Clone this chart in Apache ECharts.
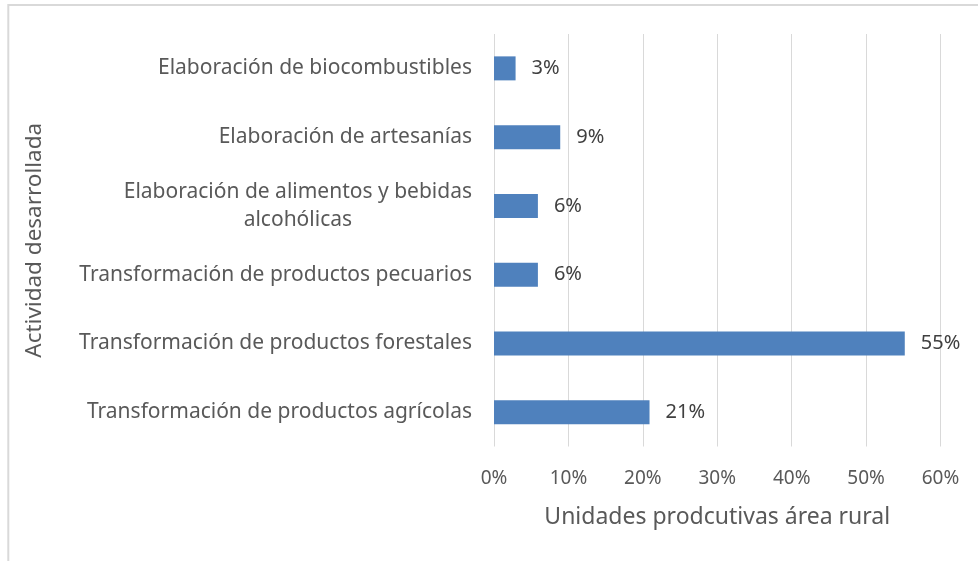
<!DOCTYPE html>
<html>
<head>
<meta charset="utf-8">
<script src="https://cdn.jsdelivr.net/npm/echarts@6/dist/echarts.min.js"></script>
<style>
  html, body { margin: 0; padding: 0; background: #fff; }
  #chart { width: 978px; height: 561px; }
</style>
</head>
<body>
<div id="chart"></div>
<script>
// categories bottom -> top (category axis starts at the bottom)
const categories = [
    'Transformación de productos agrícolas',
    'Transformación de productos forestales',
    'Transformación de productos pecuarios',
    'Elaboración de alimentos y bebidas\nalcohólicas',
    'Elaboración de artesanías',
    'Elaboración de biocombustibles'
];
const values = [20.9, 55.2, 5.9, 5.9, 8.9, 2.9];
const labels = ['21%', '55%', '6%', '6%', '9%', '3%'];
const xTicks = [0, 10, 20, 30, 40, 50, 60];

const font = 'Noto Sans';
const gray = '#595959';

let chartDom = document.getElementById('chart');
let myChart = echarts.init(chartDom);
let option;

option = {
    animation: false,
    backgroundColor: '#fff',
    textStyle: { fontFamily: font },
    graphic: [
        {
            type: 'rect',
            shape: { x: 8.3, y: 5, width: 1000, height: 600 },
            style: { fill: 'none', stroke: '#D9D9D9', lineWidth: 2 },
            silent: true
        }
    ],
    grid: {
        left: 494,
        top: 34,
        width: 446.5,
        height: 412.5
    },
    xAxis: {
        type: 'value',
        min: xTicks[0],
        max: xTicks[xTicks.length - 1],
        interval: 10,
        axisLine: { show: false },
        axisTick: { show: false },
        splitLine: { lineStyle: { color: '#D9D9D9', width: 1 } },
        axisLabel: {
            formatter: '{value}%',
            color: gray,
            fontFamily: font,
            fontSize: 19,
            margin: 23
        },
        name: 'Unidades prodcutivas área rural',
        nameLocation: 'middle',
        nameGap: 59,
        nameTextStyle: { color: gray, fontFamily: font, fontSize: 23 }
    },
    yAxis: {
        type: 'category',
        data: categories,
        axisLine: { show: false },
        axisTick: { show: false },
        axisLabel: {
            color: gray,
            fontFamily: font,
            fontSize: 21,
            margin: 22,
            lineHeight: 28,
            formatter: function (v) {
                if (v.indexOf('\n') < 0) return v;
                return v.split('\n').map(s => '{c|' + s + '}').join('\n');
            },
            rich: {
                c: { align: 'center', color: gray, fontFamily: font, fontSize: 21, lineHeight: 28 }
            }
        },
        name: 'Actividad desarrollada',
        nameLocation: 'middle',
        nameRotate: 90,
        nameGap: 448,
        nameTextStyle: { color: gray, fontFamily: font, fontSize: 22.5 }
    },
    series: [
        {
            type: 'bar',
            data: values,
            barWidth: 24,
            itemStyle: { color: '#4F81BD' },
            label: {
                show: true,
                position: 'right',
                distance: 16,
                color: '#404040',
                fontFamily: font,
                fontSize: 20,
                formatter: p => labels[p.dataIndex]
            }
        }
    ]
};

option && myChart.setOption(option);
</script>
</body>
</html>
